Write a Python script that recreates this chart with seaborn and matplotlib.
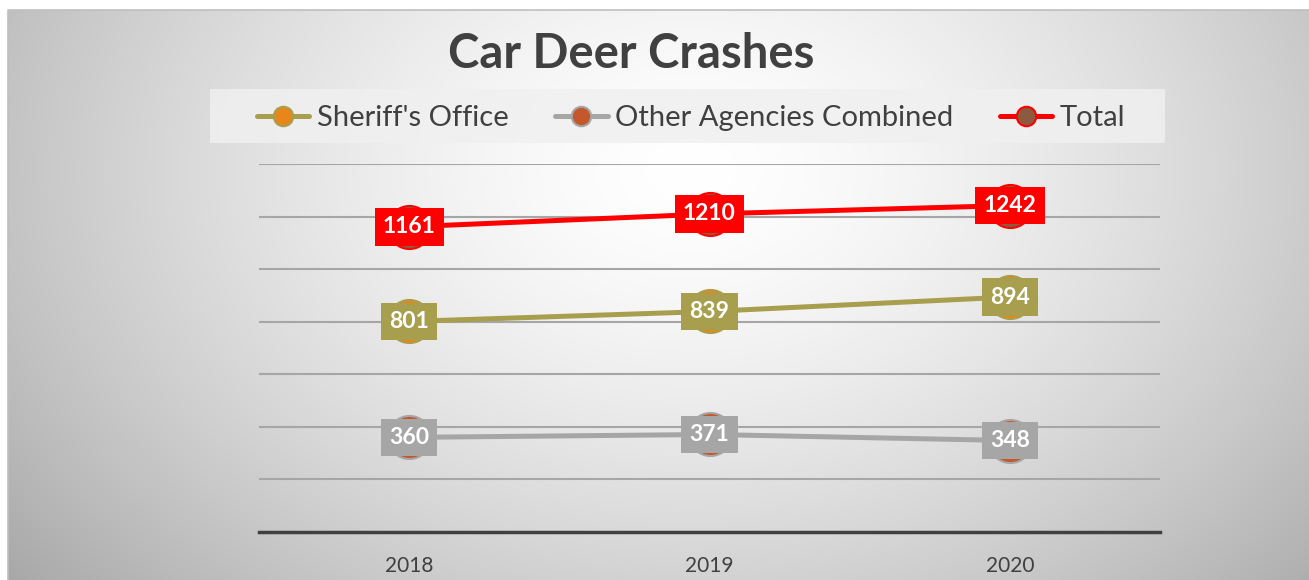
import numpy as np
import pandas as pd
import matplotlib
matplotlib.use('Agg')
import matplotlib.pyplot as plt
from matplotlib.lines import Line2D
from matplotlib.patches import Rectangle
import seaborn as sns

# --- datos ---
years = ['2018', '2019', '2020']
sheriff = [801, 839, 894]
other = [360, 371, 348]
total = [1161, 1210, 1242]

series_names = ["Sheriff's Office", "Other Agencies Combined", "Total"]
line_colors = ['#A89F4E', '#A6A6A6', '#FF0000']
face_colors = ['#E8861A', '#C5582A', '#8C5A3F']

df = pd.DataFrame({
    'year': years * 3,
    'crashes': sheriff + other + total,
    'series': [s for s in series_names for _ in years],
})

sns.set_theme(style='white')
plt.rcParams['font.family'] = ['Lato', 'DejaVu Sans']

W, H = 1309, 580
fig = plt.figure(figsize=(W / 100, H / 100), dpi=100)
fig.patch.set_facecolor('white')

# fondo con degradado radial
bg = fig.add_axes([0, 0, 1, 1], zorder=-10)
bg.set_axis_off()
yy, xx = np.mgrid[0:H, 0:W]
r = np.sqrt(((xx - 690) / 720) ** 2 + ((yy - 170) / 520) ** 2)
val = np.clip(1.0 - 0.25 * np.clip(r, 0, 1.25) ** 1.5, 0, 1)
img = np.dstack([val, val, val])
img[:10, :, :] = 1.0
img[:, :8, :] = 1.0
bg.imshow(img, extent=(0, W, H, 0), aspect='auto', interpolation='bilinear')
bg.set_xlim(0, W)
bg.set_ylim(H, 0)
bg.plot([8, 8, W], [H, 10, 10], color='#BFBFBF', lw=1.2)

# banda de la leyenda
bg.add_patch(Rectangle((210, 89), 955, 54, facecolor='#F0F0F0', edgecolor='none', alpha=0.85))

# --- grafico ---
ax = fig.add_axes([259 / W, 48 / H, (1160 - 259) / W, 368 / H])
ax.set_facecolor('none')

for name, lc, fc in zip(series_names, line_colors, face_colors):
    sns.lineplot(data=df[df['series'] == name], x='year', y='crashes', ax=ax,
                 color=lc, linewidth=3.6, marker='o', markersize=31,
                 markerfacecolor=fc, markeredgecolor=lc, markeredgewidth=1.5,
                 legend=False, zorder=3)

for vals, lc in zip([sheriff, other, total], line_colors):
    for i, v in enumerate(vals):
        ax.text(i, v, str(v), ha='center', va='center', color='white',
                fontsize=16.5, fontweight='bold', zorder=5,
                bbox=dict(boxstyle='square,pad=0.36', fc=lc, ec='none'))

ax.set_xlim(-0.5, 2.5)
ax.set_ylim(0, 1400)
ax.set_yticks(range(200, 1401, 200))
ax.set_yticklabels([])
ax.yaxis.grid(True, color='#A6A6A6', linewidth=1.5)
ax.set_axisbelow(True)
ax.tick_params(axis='y', length=0)
ax.tick_params(axis='x', length=0, labelsize=15, labelcolor='#404040', pad=17)
ax.set_xlabel('')
ax.set_ylabel('')
for side in ['top', 'left', 'right']:
    ax.spines[side].set_visible(False)
ax.spines['bottom'].set_color('#404040')
ax.spines['bottom'].set_linewidth(2.5)

fig.text(631 / W, 1 - 54 / H, 'Car Deer Crashes', ha='center', va='center',
         fontsize=34, fontweight='bold', color='#404040')

handles = [Line2D([0], [0], color=lc, lw=3.6, marker='o', markersize=14,
                  markerfacecolor=fc, markeredgecolor=lc, markeredgewidth=1.5)
           for lc, fc in zip(line_colors, face_colors)]
fig.legend(handles, series_names, loc='center', bbox_to_anchor=(691 / W, 1 - 118 / H),
           ncol=3, frameon=False, fontsize=21, handlelength=1.8, handletextpad=0.25,
           columnspacing=1.6, labelcolor='#404040')

fig.savefig('out.png', dpi=100)
